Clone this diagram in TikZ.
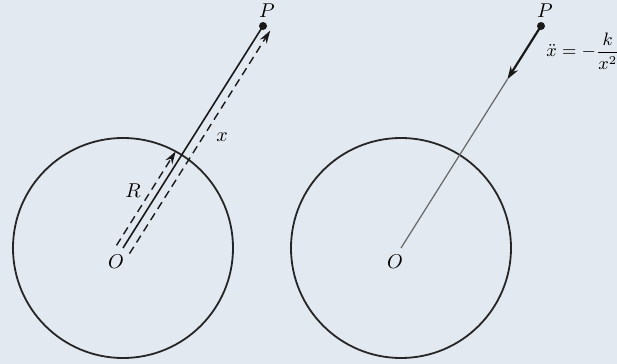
\documentclass[tikz,border=0pt]{standalone}
\usepackage{amsmath}
\usetikzlibrary{calc,arrows.meta}
\definecolor{paper}{RGB}{227,233,240}
\begin{document}
\begin{tikzpicture}[x=0.5pt, y=-0.5pt,
  rim/.style={draw=black!85, line width=0.9pt},
  rad/.style={black!90, line width=0.8pt},
  dsh/.style={black!90, line width=0.7pt, dash pattern=on 4pt off 2.6pt},
  pull/.style={black!90, line width=1.1pt, -{Stealth[length=6.5pt,width=4.2pt]}},
  tip/.style={-{Stealth[length=6.5pt,width=4pt]}},
  dot/.style={circle, fill=black!90, inner sep=0pt, minimum size=4pt},
  lbl/.style={inner sep=1pt}]
\fill[paper] (0,0) rectangle (617,364);
\useasboundingbox (0,0) rectangle (617,364);
\def\R{110}
% left: radius and distance
\coordinate (O1) at (123,248);
\node[dot] (P1) at (263,26) {};
\draw[rim] (O1) circle[radius=\R];
\draw[rad] (O1) -- (P1.center);
\coordinate (C1) at ($(O1)!0.419!(P1)$);
\draw[dsh, tip] ($(O1)+(-6.5,-2.6)$) -- ($(C1)+(-5.9,-3.7)$);
\draw[dsh, tip] ($(O1)+(6.5,5.6)$) -- ($(P1)+(7.2,4.6)$);
\node[lbl] (o1) at (116,262) {$O$};
\node[lbl] (p1) at (267,11) {$P$};
\node[lbl] (r1) at (133,191) {$R$};
\node[lbl] (x1) at (222,137) {$x$};
% right: attraction towards O
\coordinate (O2) at (401,248);
\node[dot] (P2) at (541,26) {};
\draw[rim] (O2) circle[radius=\R];
\coordinate (A2) at ($(P2)!0.24!(O2)$);
\draw[black!60, line width=0.6pt] (A2) -- (O2);
\draw[pull] (P2.center) -- (A2);
\node[lbl] (o2) at (395,262) {$O$};
\node[lbl] (p2) at (545,11) {$P$};
\node[lbl, anchor=west, font=\small] (f2) at (544,51) {$\ddot{x}=-\dfrac{k}{x^{2}}$};
\end{tikzpicture}
\end{document}
